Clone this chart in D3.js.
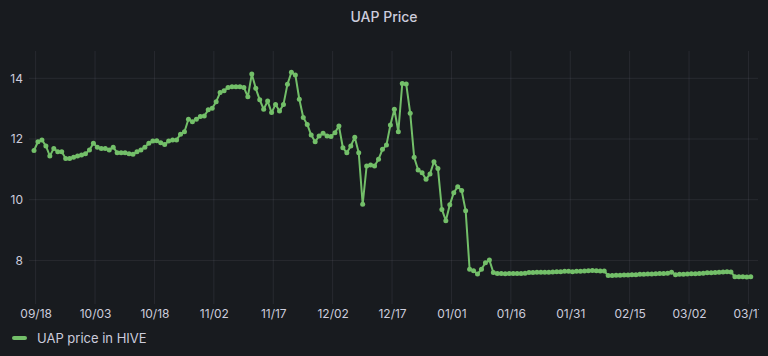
<!DOCTYPE html>
<html>
<head>
<meta charset="utf-8">
<script src="https://cdn.jsdelivr.net/npm/d3@7"></script>
<style>
  html, body { margin: 0; padding: 0; background: #181b1f; }
  svg { display: block; }
</style>
</head>
<body>
<div id="chart"></div>
<script>
// ---- data ----
const chartTitle = "UAP Price";
const seriesName = "UAP price in HIVE";
const firstTimestamp = "2021-09-17 14:00";   // first daily sample
const lastDomainTime = "2022-03-17 14:00";
const prices = [
  11.62, 11.91, 11.97, 11.77, 11.44, 11.69, 11.58, 11.58, 11.36, 11.36,
  11.40, 11.44, 11.47, 11.51, 11.64, 11.86, 11.73, 11.69, 11.69, 11.64,
  11.73, 11.55, 11.55, 11.55, 11.51, 11.50, 11.58, 11.64, 11.73, 11.86,
  11.93, 11.94, 11.88, 11.82, 11.93, 11.97, 11.97, 12.16, 12.24, 12.65,
  12.57, 12.65, 12.74, 12.76, 12.96, 13.01, 13.23, 13.53, 13.59, 13.70,
  13.72, 13.72, 13.72, 13.70, 13.39, 14.14, 13.67, 13.29, 12.98, 13.25,
  12.87, 13.14, 12.92, 13.14, 13.80, 14.20, 14.11, 13.31, 12.71, 12.48,
  12.13, 11.91, 12.10, 12.19, 12.10, 12.08, 12.21, 12.43, 11.71, 11.55,
  11.77, 12.06, 11.55, 9.85, 11.11, 11.14, 11.11, 11.33, 11.66, 11.80,
  12.46, 12.98, 12.24, 13.83, 13.81, 12.85, 11.40, 10.98, 10.89, 10.67,
  10.85, 11.25, 11.03, 9.68, 9.31, 9.83, 10.23, 10.43, 10.30, 9.64,
  7.71, 7.66, 7.55, 7.71, 7.92, 8.01, 7.60, 7.57, 7.57, 7.56,
  7.57, 7.57, 7.57, 7.57, 7.58, 7.60, 7.60, 7.61, 7.61, 7.61,
  7.61, 7.62, 7.63, 7.63, 7.64, 7.64, 7.63, 7.64, 7.64, 7.65,
  7.66, 7.67, 7.66, 7.65, 7.65, 7.50, 7.50, 7.51, 7.51, 7.52,
  7.52, 7.53, 7.53, 7.54, 7.54, 7.55, 7.55, 7.56, 7.57, 7.57,
  7.58, 7.61, 7.53, 7.54, 7.54, 7.55, 7.56, 7.56, 7.57, 7.58,
  7.59, 7.59, 7.60, 7.61, 7.62, 7.63, 7.62, 7.46, 7.46, 7.46,
  7.45, 7.46
];
const xTickDates = ["2021-09-18","2021-10-03","2021-10-18","2021-11-02","2021-11-17",
  "2021-12-02","2021-12-17","2022-01-01","2022-01-16","2022-01-31","2022-02-15",
  "2022-03-02","2022-03-17"];
const yTickValues = [8, 10, 12, 14];

// ---- layout ----
const W = 768, H = 356;
const plot = { left: 29, right: 758, top: 51, bottom: 304 };
const green = "#73bf69";
const textColor = "#ccccdc";
const gridColor = "rgba(204,204,220,0.09)";

const parse = d3.timeParse("%Y-%m-%d %H:%M");
const parseDay = d3.timeParse("%Y-%m-%d");
const t0 = parse(firstTimestamp);
const data = prices.map((v, i) => ({ t: d3.timeDay.offset(t0, i), v }));

const x = d3.scaleTime()
  .domain([t0, parse(lastDomainTime)])
  .range([34, 34 + 181 * 3.96]);
const y = d3.scaleLinear().domain([8, 14]).range([260.4, 78.3]);

const svg = d3.select("#chart").append("svg")
  .attr("width", W).attr("height", H)
  .style("font-family", "Inter, 'Noto Sans', sans-serif");

svg.append("rect").attr("width", W).attr("height", H).attr("fill", "#181b1f");

svg.append("text")
  .attr("x", W / 2).attr("y", 22)
  .attr("text-anchor", "middle")
  .attr("fill", textColor)
  .attr("font-size", 14).attr("font-weight", 500)
  .text(chartTitle);

const clip = svg.append("defs").append("clipPath").attr("id", "xclip");
clip.append("rect").attr("x", 0).attr("y", 0).attr("width", 759).attr("height", H);

// grid
const xt = xTickDates.map(parseDay);
svg.append("g").selectAll("line").data(xt).join("line")
  .attr("x1", d => x(d)).attr("x2", d => x(d))
  .attr("y1", plot.top).attr("y2", plot.bottom)
  .attr("stroke", gridColor).attr("stroke-width", 1);
svg.append("g").selectAll("line").data(yTickValues).join("line")
  .attr("x1", plot.left).attr("x2", plot.right)
  .attr("y1", d => y(d)).attr("y2", d => y(d))
  .attr("stroke", gridColor).attr("stroke-width", 1);

// axes (labels only)
const xAxis = d3.axisBottom(x).tickValues(xt).tickFormat(d3.timeFormat("%m/%d")).tickSize(0).tickPadding(0);
const gx = svg.append("g").attr("transform", `translate(0,${plot.bottom + 5})`)
  .attr("clip-path", "url(#xclip)")
  .call(xAxis);
gx.select(".domain").remove();
gx.selectAll("text").attr("fill", textColor).attr("font-size", 12)
  .attr("font-family", "Inter, 'Noto Sans', sans-serif").attr("dy", "0.71em");

const yAxis = d3.axisLeft(y).tickValues(yTickValues).tickFormat(d3.format("d")).tickSize(0).tickPadding(0);
const gy = svg.append("g").attr("transform", `translate(23,0)`).call(yAxis);
gy.select(".domain").remove();
gy.selectAll("text").attr("fill", textColor).attr("font-size", 12)
  .attr("font-family", "Inter, 'Noto Sans', sans-serif");

// series
const line = d3.line().x(d => x(d.t)).y(d => y(d.v));
svg.append("path").datum(data)
  .attr("d", line)
  .attr("fill", "none")
  .attr("stroke", green)
  .attr("stroke-width", 2)
  .attr("stroke-linejoin", "round");
svg.append("g").selectAll("circle").data(data).join("circle")
  .attr("cx", d => x(d.t)).attr("cy", d => y(d.v))
  .attr("r", 2.5).attr("fill", green);

// legend
svg.append("rect")
  .attr("x", 12).attr("y", 336).attr("width", 15).attr("height", 4).attr("rx", 2)
  .attr("fill", green);
svg.append("text")
  .attr("x", 37).attr("y", 342.5)
  .attr("fill", textColor).attr("font-size", 13)
  .text(seriesName);
</script>
</body>
</html>
